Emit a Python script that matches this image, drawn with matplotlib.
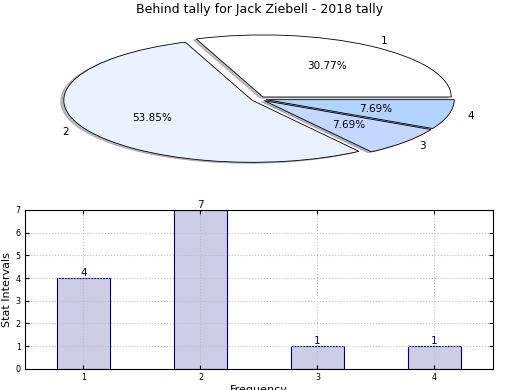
import matplotlib
matplotlib.use("Agg")
import matplotlib.pyplot as plt

pie_labels = ["1", "2", "3", "4"]
pie_values = [4, 7, 1, 1]
pie_colors = ["#FFFFFF", "#EAF1FF", "#C4D7FF", "#B1D3FF"]
pie_explode = [0.04, 0.04, 0.04, 0.04]

bar_x = [1, 2, 3, 4]
bar_values = [4, 7, 1, 1]
yticks = [0, 1, 2, 3, 4, 5, 6, 7]

fig = plt.figure(figsize=(5.2, 3.9), dpi=100)

ax1 = fig.add_axes([0.045, 0.547, 0.905, 0.398])
ax1.pie(pie_values, labels=pie_labels, colors=pie_colors, explode=pie_explode,
        autopct="%.2f%%", shadow=dict(ox=-0.012, oy=-0.012, shade=0.5),
        startangle=0,
        wedgeprops=dict(edgecolor="black", linewidth=0.6),
        textprops=dict(fontsize=7.5))
ax1.set_aspect("auto")
ax1.set_xlim(-1.25, 1.25)
ax1.set_ylim(-1.25, 1.25)
fig.text(0.5, 1 - 10 / 390, "Behind tally for Jack Ziebell - 2018 tally",
         ha="center", va="center", fontsize=9)

ax2 = fig.add_axes([0.048, 0.054, 0.9, 0.408])
bars = ax2.bar(bar_x, bar_values, width=0.45, color="#CDCDE6",
               edgecolor="#000080", linewidth=0.8, zorder=2)
for x, v in zip(bar_x, bar_values):
    ax2.text(x, v, str(v), ha="center", va="bottom", fontsize=7.5,
             color="#000080", zorder=3)
ax2.set_xlim(0.5, 4.5)
ax2.set_ylim(0, 7)
ax2.set_xticks(bar_x)
ax2.set_yticks(yticks)
ax2.tick_params(labelsize=5.8, direction="in", top=True, right=True,
                length=3, pad=3)
ax2.grid(True, linestyle=":", color="#BDBDBD", linewidth=0.8, zorder=2.5)
ax2.set_axisbelow(False)
for s in ax2.spines.values():
    s.set_zorder(5)
ax2.set_ylabel("Stat Intervals", fontsize=8, labelpad=3)
ax2.set_xlabel("Frequency", fontsize=8, labelpad=2)

fig.savefig("out.png", dpi=100)
